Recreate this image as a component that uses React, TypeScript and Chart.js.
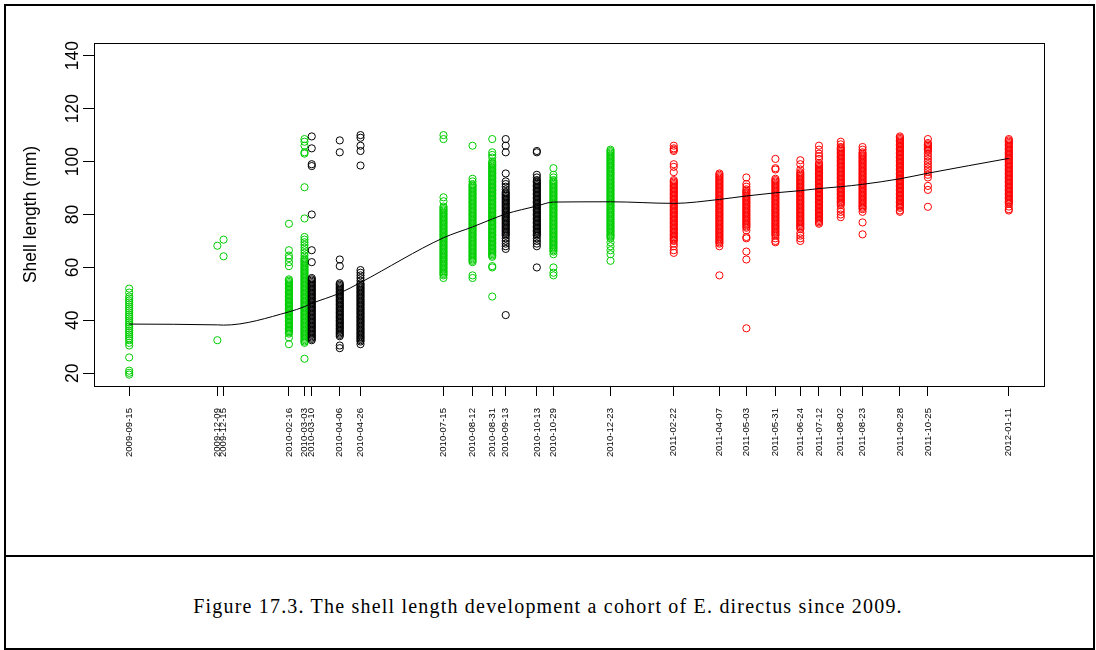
import React, { useEffect, useRef } from 'react';
import { Chart, registerables } from 'chart.js';

Chart.register(...registerables);

// ---- data -----------------------------------------------------------------
const sampleDates = [
  '2009-09-15', '2009-12-09', '2009-12-15', '2010-02-16', '2010-03-03', '2010-03-10',
  '2010-04-06', '2010-04-26', '2010-07-15', '2010-08-12', '2010-08-31', '2010-09-13',
  '2010-10-13', '2010-10-29', '2010-12-23', '2011-02-22', '2011-04-07', '2011-05-03',
  '2011-05-31', '2011-06-24', '2011-07-12', '2011-08-02', '2011-08-23', '2011-09-28',
  '2011-10-25', '2012-01-11',
];

const sampleGroups = [
  'green', 'green', 'green', 'green', 'green', 'black',
  'black', 'black', 'green', 'green', 'green', 'black',
  'black', 'green', 'green', 'red', 'red', 'red',
  'red', 'red', 'red', 'red', 'red', 'red',
  'red', 'red',
];

// mean (smoothed) shell length at each sampling date
const trendValues = [
  38.6, 38.3, 38.2, 43.2, 45.2, 46.4,
  50.3, 54.3, 71.2, 75.3, 78.3, 80.2,
  83.2, 84.7, 84.8, 84.2, 85.7, 87.0,
  88.2, 89.0, 89.8, 90.5, 91.4, 93.5,
  95.6, 101.2,
];

const yTickValues = [20, 40, 60, 80, 100, 120, 140];

const v20090915 = [52, 50.5, 49, 48.3, 47.5, 46.8, 46, 45.2, 44.5, 43.8, 43, 42.2, 41.5, 40.8, 40, 39.3, 38.5, 37.8, 37, 36.2, 35.5, 34.7, 34, 33.2, 32.5, 31.5, 30.5, 26, 21, 20.2, 19.5];
const v20091209 = [68.2, 32.5];
const v20091215 = [70.5, 64.2];
const v20100216 = [76.5, 66.5, 64.5, 63.5, 62, 60.5, 55.5, 55, 54.5, 54, 53.5, 53, 52.5, 52, 51.5, 51, 50.5, 50, 49.5, 49, 48.5, 48, 47.5, 47, 46.5, 46, 45.5, 45, 44.5, 44, 43.5, 43, 42.5, 42, 41.5, 41, 40.5, 40, 39.5, 39, 38.5, 38, 37.5, 37, 36.5, 36, 35.5, 35, 33.5, 31];
const v20100303 = [108.5, 107.5, 106, 103.5, 103, 90.3, 78.5, 71.5, 70.5, 69.5, 68.5, 67.5, 66.5, 65.5, 64.5, 63.5, 63, 62.5, 62, 61.5, 61, 60.5, 60, 59.5, 59, 58.5, 58, 57.5, 57, 56.5, 56, 55.5, 55, 54.5, 54, 53.5, 53, 52.5, 52, 51.5, 51, 50.5, 50, 49.5, 49, 48.5, 48, 47.5, 47, 46.5, 46, 45.5, 45, 44.5, 44, 43.5, 43, 42.5, 42, 41.5, 41, 40.5, 40, 39.5, 39, 38.5, 38, 37.5, 37, 36.5, 36, 35.5, 35, 34.5, 34, 33.5, 33, 32.5, 32, 31.5, 25.5];
const v20100310 = [109.5, 105, 99, 98.3, 80, 66.5, 62, 56, 55.5, 55, 54.5, 54, 53.5, 53, 52.5, 52, 51.5, 51, 50.5, 50, 49.5, 49, 48.5, 48, 47.5, 47, 46.5, 46, 45.5, 45, 44.5, 44, 43.5, 43, 42.5, 42, 41.5, 41, 40.5, 40, 39.5, 39, 38.5, 38, 37.5, 37, 36.5, 36, 35.5, 35, 34.5, 34, 33.5, 33, 32.5];
const v20100406 = [108, 103.5, 63, 60.5, 54, 53.5, 53, 52.5, 52, 51.5, 51, 50.5, 50, 49.5, 49, 48.5, 48, 47.5, 47, 46.5, 46, 45.5, 45, 44.5, 44, 43.5, 43, 42.5, 42, 41.5, 41, 40.5, 40, 39.5, 39, 38.5, 38, 37.5, 37, 36.5, 36, 35.5, 35, 34.5, 34, 30.5, 29.5];
const v20100426 = [110, 109, 106, 104, 98.5, 59, 58, 57, 56, 55, 54, 53.5, 53, 52.5, 52, 51.5, 51, 50.5, 50, 49.5, 49, 48.5, 48, 47.5, 47, 46.5, 46, 45.5, 45, 44.5, 44, 43.5, 43, 42.5, 42, 41.5, 41, 40.5, 40, 39.5, 39, 38.5, 38, 37.5, 37, 36.5, 36, 35.5, 35, 34.5, 34, 33.5, 33, 32.5, 32, 31];
const v20100715 = [110, 108.5, 86.5, 85, 83, 82.5, 82, 81.5, 81, 80.5, 80, 79.5, 79, 78.5, 78, 77.5, 77, 76.5, 76, 75.5, 75, 74.5, 74, 73.5, 73, 72.5, 72, 71.5, 71, 70.5, 70, 69.5, 69, 68.5, 68, 67.5, 67, 66.5, 66, 65.5, 65, 64.5, 64, 63.5, 63, 62.5, 62, 61.5, 61, 60.5, 60, 59.5, 59, 58.5, 58, 57.5, 57, 56];
const v20100812 = [106, 93.5, 92.5, 91.5, 91, 90.5, 90, 89.5, 89, 88.5, 88, 87.5, 87, 86.5, 86, 85.5, 85, 84.5, 84, 83.5, 83, 82.5, 82, 81.5, 81, 80.5, 80, 79.5, 79, 78.5, 78, 77.5, 77, 76.5, 76, 75.5, 75, 74.5, 74, 73.5, 73, 72.5, 72, 71.5, 71, 70.5, 70, 69.5, 69, 68.5, 68, 67.5, 67, 66.5, 66, 65.5, 65, 64.5, 64, 63.5, 63, 62.5, 62, 57, 56];
const v20100831 = [108.5, 103.5, 102.5, 101.5, 100, 99.5, 99, 98.5, 98, 97.5, 97, 96.5, 96, 95.5, 95, 94.5, 94, 93.5, 93, 92.5, 92, 91.5, 91, 90.5, 90, 89.5, 89, 88.5, 88, 87.5, 87, 86.5, 86, 85.5, 85, 84.5, 84, 83.5, 83, 82.5, 82, 81.5, 81, 80.5, 80, 79.5, 79, 78.5, 78, 77.5, 77, 76.5, 76, 75.5, 75, 74.5, 74, 73.5, 73, 72.5, 72, 71.5, 71, 70.5, 70, 69.5, 69, 68.5, 68, 67.5, 67, 66.5, 66, 65.5, 65, 64.5, 64, 60.5, 60, 49];
const v20100913 = [108.5, 106, 103.5, 95.5, 92.5, 91.5, 90.5, 89.5, 88.5, 88, 87.5, 87, 86.5, 86, 85.5, 85, 84.5, 84, 83.5, 83, 82.5, 82, 81.5, 81, 80.5, 80, 79.5, 79, 78.5, 78, 77.5, 77, 76.5, 76, 75.5, 75, 74.5, 74, 73.5, 73, 72.5, 72, 71, 70, 69, 68, 67, 42];
const v20101013 = [104, 103.5, 95, 94, 93, 92.5, 92, 91.5, 91, 90.5, 90, 89.5, 89, 88.5, 88, 87.5, 87, 86.5, 86, 85.5, 85, 84.5, 84, 83.5, 83, 82.5, 82, 81.5, 81, 80.5, 80, 79.5, 79, 78.5, 78, 77.5, 77, 76.5, 76, 75.5, 75, 74.5, 74, 73.5, 73, 72.5, 72, 71, 70, 69, 68, 60];
const v20101029 = [97.5, 95, 94, 93, 92.5, 92, 91.5, 91, 90.5, 90, 89.5, 89, 88.5, 88, 87.5, 87, 86.5, 86, 85.5, 85, 84.5, 84, 83.5, 83, 82.5, 82, 81.5, 81, 80.5, 80, 79.5, 79, 78.5, 78, 77.5, 77, 76.5, 76, 75.5, 75, 74.5, 74, 73.5, 73, 72.5, 72, 71.5, 71, 70.5, 70, 69.5, 69, 68.5, 68, 67.5, 67, 66.5, 66, 65, 60, 58, 57];
const v20101223 = [104.5, 104, 103.5, 103, 102.5, 102, 101.5, 101, 100.5, 100, 99.5, 99, 98.5, 98, 97.5, 97, 96.5, 96, 95.5, 95, 94.5, 94, 93.5, 93, 92.5, 92, 91.5, 91, 90.5, 90, 89.5, 89, 88.5, 88, 87.5, 87, 86.5, 86, 85.5, 85, 84.5, 84, 83.5, 83, 82.5, 82, 81.5, 81, 80.5, 80, 79.5, 79, 78.5, 78, 77.5, 77, 76.5, 76, 75.5, 75, 74.5, 74, 73.5, 73, 72.5, 72, 71.5, 71, 69.5, 68, 66.5, 65, 62.5];
const v20110222 = [106, 105, 104.5, 104, 99, 98, 96, 93, 92.5, 92, 91.5, 91, 90.5, 90, 89.5, 89, 88.5, 88, 87.5, 87, 86.5, 86, 85.5, 85, 84.5, 84, 83.5, 83, 82.5, 82, 81.5, 81, 80.5, 80, 79.5, 79, 78.5, 78, 77.5, 77, 76.5, 76, 75.5, 75, 74.5, 74, 73.5, 73, 72.5, 72, 71.5, 71, 70.5, 70, 69, 68, 66.5, 65.5];
const v20110407 = [95.5, 95, 94.5, 94, 93.5, 93, 92.5, 92, 91.5, 91, 90.5, 90, 89.5, 89, 88.5, 88, 87.5, 87, 86.5, 86, 85.5, 85, 84.5, 84, 83.5, 83, 82.5, 82, 81.5, 81, 80.5, 80, 79.5, 79, 78.5, 78, 77.5, 77, 76.5, 76, 75.5, 75, 74.5, 74, 73.5, 73, 72.5, 72, 71.5, 71, 70.5, 70, 69.5, 69, 68, 57];
const v20110503 = [94, 91.5, 90.5, 89.5, 89, 88.5, 88, 87.5, 87, 86.5, 86, 85.5, 85, 84.5, 84, 83.5, 83, 82.5, 82, 81.5, 81, 80.5, 80, 79.5, 79, 78.5, 78, 77.5, 77, 76.5, 76, 75.5, 75, 74, 71.5, 71, 66, 63, 37];
const v20110531 = [101, 97.5, 97, 93.5, 93, 92.5, 92, 91.5, 91, 90.5, 90, 89.5, 89, 88.5, 88, 87.5, 87, 86.5, 86, 85.5, 85, 84.5, 84, 83.5, 83, 82.5, 82, 81.5, 81, 80.5, 80, 79.5, 79, 78.5, 78, 77.5, 77, 76.5, 76, 75.5, 75, 74.5, 74, 73.5, 73, 72.5, 72, 71, 70, 69.5];
const v20110624 = [100.5, 99, 97, 96, 95.5, 95, 94.5, 94, 93.5, 93, 92.5, 92, 91.5, 91, 90.5, 90, 89.5, 89, 88.5, 88, 87.5, 87, 86.5, 86, 85.5, 85, 84.5, 84, 83.5, 83, 82.5, 82, 81.5, 81, 80.5, 80, 79.5, 79, 78.5, 78, 77.5, 77, 76.5, 76, 75.5, 75, 74.5, 73, 72, 71, 70];
const v20110712 = [106, 104.5, 103, 102, 101, 99.5, 99, 98.5, 98, 97.5, 97, 96.5, 96, 95.5, 95, 94.5, 94, 93.5, 93, 92.5, 92, 91.5, 91, 90.5, 90, 89.5, 89, 88.5, 88, 87.5, 87, 86.5, 86, 85.5, 85, 84.5, 84, 83.5, 83, 82.5, 82, 81.5, 81, 80.5, 80, 79.5, 79, 78.5, 78, 77.5, 77, 76.5];
const v20110802 = [107.5, 106.5, 105.5, 105, 104.5, 104, 103.5, 103, 102.5, 102, 101.5, 101, 100.5, 100, 99.5, 99, 98.5, 98, 97.5, 97, 96.5, 96, 95.5, 95, 94.5, 94, 93.5, 93, 92.5, 92, 91.5, 91, 90.5, 90, 89.5, 89, 88.5, 88, 87.5, 87, 86.5, 86, 85.5, 85, 84.5, 84, 83.5, 82, 81, 80, 79];
const v20110823 = [105.5, 104.5, 103.5, 103, 102.5, 102, 101.5, 101, 100.5, 100, 99.5, 99, 98.5, 98, 97.5, 97, 96.5, 96, 95.5, 95, 94.5, 94, 93.5, 93, 92.5, 92, 91.5, 91, 90.5, 90, 89.5, 89, 88.5, 88, 87.5, 87, 86.5, 86, 85.5, 85, 84.5, 84, 83.5, 83, 82.5, 82, 81, 77, 72.5];
const v20110928 = [109.5, 109, 108.5, 108, 107.5, 107, 106.5, 106, 105.5, 105, 104.5, 104, 103.5, 103, 102.5, 102, 101.5, 101, 100.5, 100, 99.5, 99, 98.5, 98, 97.5, 97, 96.5, 96, 95.5, 95, 94.5, 94, 93.5, 93, 92.5, 92, 91.5, 91, 90.5, 90, 89.5, 89, 88.5, 88, 87.5, 87, 86.5, 86, 85.5, 85, 84.5, 84, 83.5, 83, 82.5, 81.5, 81];
const v20111025 = [108.5, 107, 106.5, 106, 105.5, 105, 104.5, 104, 103, 102, 101, 100, 99, 98, 97, 96, 95, 94, 90.8, 89.3, 82.9];
const v20120111 = [108.5, 108, 107.5, 107, 106.5, 106, 105.5, 105, 104.5, 104, 103.5, 103, 102.5, 102, 101.5, 101, 100.5, 100, 99.5, 99, 98.5, 98, 97.5, 97, 96.5, 96, 95.5, 95, 94.5, 94, 93.5, 93, 92.5, 92, 91.5, 91, 90.5, 90, 89.5, 89, 88.5, 88, 87.5, 87, 86.5, 86, 85.5, 85, 84.5, 84, 83, 82, 81.5];

const sampleValues = [
  v20090915, v20091209, v20091215, v20100216, v20100303, v20100310,
  v20100406, v20100426, v20100715, v20100812, v20100831, v20100913,
  v20101013, v20101029, v20101223, v20110222, v20110407, v20110503,
  v20110531, v20110624, v20110712, v20110802, v20110823, v20110928,
  v20111025, v20120111,
];

// ---- helpers --------------------------------------------------------------
const DAY = 86400000;
const origin = Date.UTC(2009, 8, 15);
const toDay = (s: string) => {
  const [y, m, d] = s.split('-').map(Number);
  return (Date.UTC(y, m - 1, d) - origin) / DAY;
};
const sampleDays = sampleDates.map(toDay);
const daySpan = sampleDays[sampleDays.length - 1] - sampleDays[0];
const xMin = sampleDays[0] - daySpan * 0.04;
const xMax = sampleDays[sampleDays.length - 1] + daySpan * 0.04;
const yMin = 20 - 120 * 0.04;
const yMax = 140 + 120 * 0.04;

const COLORS: Record<string, string> = { green: '#00CD00', black: '#000000', red: '#FF0000' };

const pointsFor = (group: string) => {
  const pts: { x: number; y: number }[] = [];
  sampleValues.forEach((vals, i) => {
    if (sampleGroups[i] !== group) return;
    vals.forEach((v) => pts.push({ x: sampleDays[i], y: v }));
  });
  return pts;
};

const boxPlugin = {
  id: 'plotBox',
  afterDraw(chart: any) {
    const { ctx, chartArea } = chart;
    const { left, top, right, bottom } = chartArea;
    ctx.save();
    ctx.strokeStyle = '#000';
    ctx.lineWidth = 1;
    ctx.strokeRect(Math.round(left) + 0.5, Math.round(top) + 0.5, Math.round(right - left), Math.round(bottom - top));
    ctx.restore();
  },
};

const FONT = "'Liberation Sans', Arial, Helvetica, sans-serif";

function ShellChart() {
  const ref = useRef<HTMLCanvasElement | null>(null);
  useEffect(() => {
    if (!ref.current) return;
    const pointDs = (group: string, order: number) => ({
      label: group,
      data: pointsFor(group),
      borderColor: COLORS[group],
      backgroundColor: 'rgba(0,0,0,0)',
      pointRadius: 3.6,
      pointBorderWidth: 1,
      pointStyle: 'circle',
      showLine: false,
      order,
    });
    const chart = new Chart(ref.current, {
      type: 'scatter',
      data: {
        datasets: [
          {
            label: 'trend',
            data: sampleDays.map((d, i) => ({ x: d, y: trendValues[i] })),
            borderColor: '#000',
            borderWidth: 1,
            pointRadius: 0,
            showLine: true,
            cubicInterpolationMode: 'monotone',
            order: 0,
          } as any,
          pointDs('black', 1),
          pointDs('green', 2),
          pointDs('red', 3),
        ],
      },
      options: {
        animation: false,
        responsive: false,
        maintainAspectRatio: false,
        events: [],
        layout: { padding: { left: 0, top: 43, right: 52, bottom: 0 } },
        plugins: { legend: { display: false }, tooltip: { enabled: false } },
        scales: {
          x: {
            type: 'linear',
            min: xMin,
            max: xMax,
            afterBuildTicks: (s: any) => {
              s.ticks = sampleDays.map((v) => ({ value: v }));
            },
            afterFit: (s: any) => {
              s.height = 170;
            },
            ticks: {
              autoSkip: false,
              minRotation: 90,
              maxRotation: 90,
              padding: 12,
              color: '#000',
              font: { family: FONT, size: 9.6 },
              callback: (_v: any, i: number) => sampleDates[i],
            },
            grid: { drawOnChartArea: false, drawTicks: true, tickLength: 10, color: '#000', tickColor: '#000' },
            border: { display: true, color: '#000', width: 1 },
          },
          y: {
            type: 'linear',
            min: yMin,
            max: yMax,
            afterBuildTicks: (s: any) => {
              s.ticks = yTickValues.map((v) => ({ value: v }));
            },
            afterFit: (s: any) => {
              s.width = 94;
            },
            ticks: {
              minRotation: 90,
              maxRotation: 90,
              crossAlign: 'center',
              padding: -4.5,
              color: '#000',
              font: { family: FONT, size: 17.5 },
              callback: (v: any) => String(v),
            },
            grid: { drawOnChartArea: false, drawTicks: true, tickLength: 11, color: '#000', tickColor: '#000' },
            border: { display: true, color: '#000', width: 1 },
            title: {
              display: true,
              text: 'Shell length (mm)',
              color: '#000',
              font: { family: FONT, size: 17.5 },
              padding: { top: 21, bottom: 0 },
            },
          },
        },
      } as any,
      plugins: [boxPlugin],
    });
    return () => chart.destroy();
  }, []);
  return <canvas ref={ref} width={1096} height={556} style={{ position: 'absolute', left: 0, top: 0 }} />;
}

export default function App() {
  return (
    <div style={{ position: 'absolute', left: 0, top: 0, width: 1096, height: 650, background: '#fff', overflow: 'hidden' }}>
      <div style={{ position: 'absolute', left: 4, top: 4, width: 1091, height: 646, border: '2px solid #000', boxSizing: 'border-box' }} />
      <div style={{ position: 'absolute', left: 4, top: 555, width: 1091, height: 2, background: '#000' }} />
      <ShellChart />
      <div
        style={{
          position: 'absolute',
          left: 0,
          top: 593,
          width: 1096,
          textAlign: 'center',
          fontFamily: "'Liberation Serif', 'Times New Roman', serif",
          fontSize: 20,
          letterSpacing: '1.2px',
          lineHeight: '26px',
          color: '#000',
        }}
      >
        Figure 17.3. The shell length development a cohort of E. directus since 2009.
      </div>
    </div>
  );
}
